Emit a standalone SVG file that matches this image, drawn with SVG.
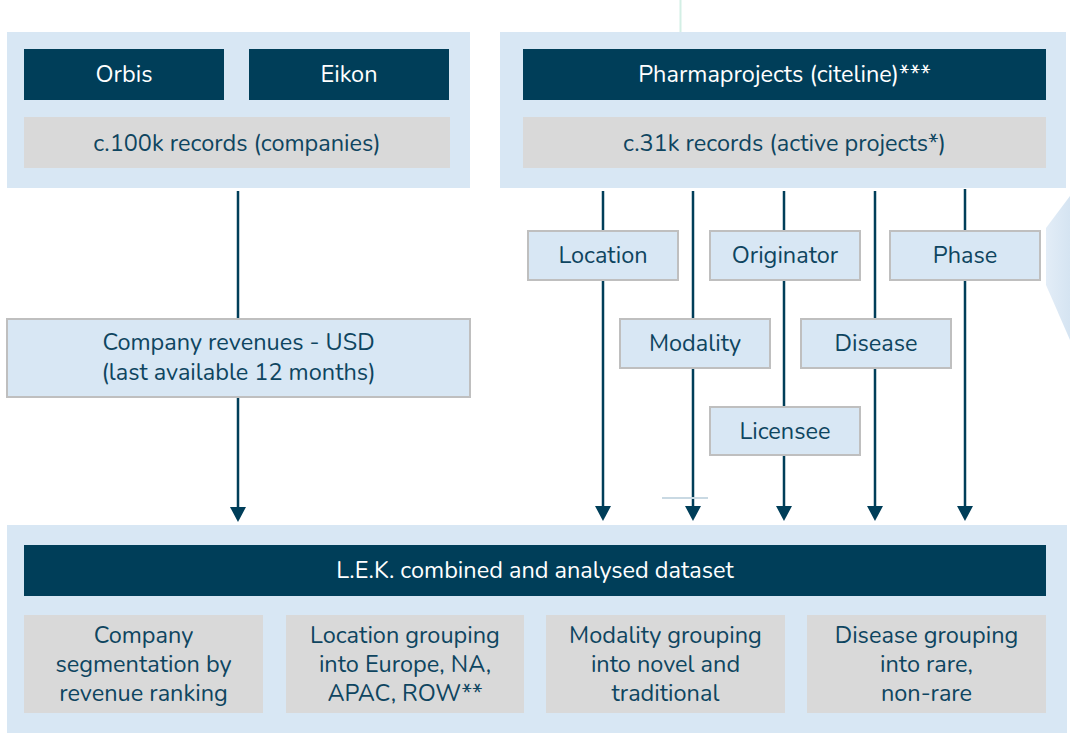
<svg xmlns="http://www.w3.org/2000/svg" width="1070" height="734" viewBox="0 0 1070 734">
<style>
.panel{fill:#d8e7f4}
.dark{fill:#003e59}
.grey{fill:#d9d9d9}
.lbl{fill:#d8e7f4;stroke:#bfbfbf;stroke-width:2}
text{font-family:"Nunito","Open Sans","Noto Sans",sans-serif;font-size:23.5px;text-anchor:middle}
.w{fill:#ffffff}
.t{fill:#0e4560}
.conn{stroke:#003e59;stroke-width:2.5;fill:none}
</style>
<defs>
<marker id="ah" markerUnits="userSpaceOnUse" markerWidth="16" markerHeight="16" refX="0" refY="8" orient="auto" viewBox="0 0 16 16">
<path d="M0,0 L15,8 L0,16 z" fill="#003e59"/>
</marker>
<linearGradient id="chev" x1="0" y1="0" x2="1" y2="0">
<stop offset="0" stop-color="#e3edf7"/>
<stop offset="1" stop-color="#d5e4f2"/>
</linearGradient>
</defs>
<line x1="680.5" y1="0" x2="680.5" y2="32" stroke="#d3efe5" stroke-width="2"/>
<polygon points="1046,228 1070,196 1070,340 1046,285" fill="url(#chev)"/>
<g id="source-left">
<rect class="panel" x="7" y="32" width="463" height="156"/>
<g id="orbis"><rect class="dark" x="24" y="49" width="200" height="51"/><text class="w" x="124" y="82">Orbis</text></g>
<g id="eikon"><rect class="dark" x="249" y="49" width="200" height="51"/><text class="w" x="349" y="82">Eikon</text></g>
<g id="records-companies"><rect class="grey" x="24" y="117" width="426" height="51"/><text class="t" x="237" y="151">c.100k records (companies)</text></g>
</g>
<g id="source-right">
<rect class="panel" x="500" y="32" width="566" height="156"/>
<g id="pharmaprojects"><rect class="dark" x="523" y="49" width="523" height="51"/><text class="w" x="784.5" y="82">Pharmaprojects (citeline)***</text></g>
<g id="records-projects"><rect class="grey" x="523" y="117" width="523" height="51"/><text class="t" x="784.5" y="151">c.31k records (active projects*)</text></g>
</g>
<g id="connectors">
<line class="conn" x1="238" y1="191" x2="238" y2="507" marker-end="url(#ah)"/>
<line class="conn" x1="603" y1="191" x2="603" y2="506" marker-end="url(#ah)"/>
<line class="conn" x1="693" y1="191" x2="693" y2="506" marker-end="url(#ah)"/>
<line class="conn" x1="784" y1="191" x2="784" y2="506" marker-end="url(#ah)"/>
<line class="conn" x1="875" y1="191" x2="875" y2="506" marker-end="url(#ah)"/>
<line class="conn" x1="965" y1="189" x2="965" y2="506" marker-end="url(#ah)"/>
</g>
<line x1="662" y1="498" x2="708" y2="498" stroke="#c9d9e3" stroke-width="2"/>
<g id="company-revenues"><rect class="lbl" x="7" y="319" width="463" height="78"/><text class="t" x="238.5" y="350">Company revenues - USD</text><text class="t" x="238.5" y="380">(last available 12 months)</text></g>
<g id="location"><rect class="lbl" x="528" y="231" width="150" height="49"/><text class="t" x="603" y="263">Location</text></g>
<g id="originator"><rect class="lbl" x="710" y="231" width="150" height="49"/><text class="t" x="785" y="263">Originator</text></g>
<g id="phase"><rect class="lbl" x="890" y="231" width="150" height="49"/><text class="t" x="965" y="263">Phase</text></g>
<g id="modality"><rect class="lbl" x="620" y="319" width="150" height="49"/><text class="t" x="695" y="351">Modality</text></g>
<g id="disease"><rect class="lbl" x="801" y="319" width="150" height="49"/><text class="t" x="876" y="351">Disease</text></g>
<g id="licensee"><rect class="lbl" x="710" y="407" width="150" height="48"/><text class="t" x="785" y="439">Licensee</text></g>
<g id="dataset">
<rect class="panel" x="7" y="525" width="1060" height="208"/>
<g id="lek"><rect class="dark" x="24" y="545" width="1022" height="51"/><text class="w" x="535" y="578">L.E.K. combined and analysed dataset</text></g>
<g id="seg"><rect class="grey" x="24" y="615" width="239" height="98"/><text class="t" x="143.5" y="643">Company</text><text class="t" x="143.5" y="672">segmentation by</text><text class="t" x="143.5" y="701">revenue ranking</text></g>
<g id="locgroup"><rect class="grey" x="286" y="615" width="238" height="98"/><text class="t" x="405" y="643">Location grouping</text><text class="t" x="405" y="672">into Europe, NA,</text><text class="t" x="405" y="701">APAC, ROW**</text></g>
<g id="modgroup"><rect class="grey" x="546" y="615" width="239" height="98"/><text class="t" x="665.5" y="643">Modality grouping</text><text class="t" x="665.5" y="672">into novel and</text><text class="t" x="665.5" y="701">traditional</text></g>
<g id="disgroup"><rect class="grey" x="807" y="615" width="239" height="98"/><text class="t" x="926.5" y="643">Disease grouping</text><text class="t" x="926.5" y="672">into rare,</text><text class="t" x="926.5" y="701">non-rare</text></g>
</g>
</svg>
